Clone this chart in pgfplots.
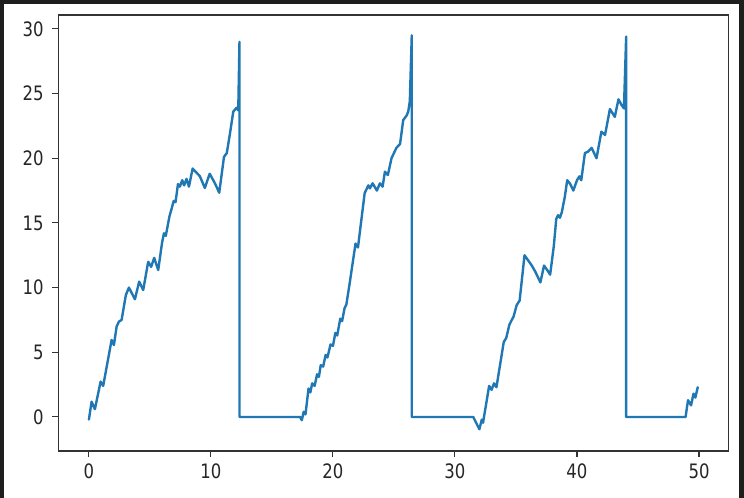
\documentclass[border=0pt]{standalone}
\usepackage{pgfplots}
\pgfplotsset{compat=1.18}
\usepackage{fontspec}
\setmainfont{DejaVu Sans}[FakeStretch=0.83]
\definecolor{mplblue}{HTML}{1F77B4}
\definecolor{framedark}{HTML}{1E1E1E}
\definecolor{ticktext}{HTML}{262626}
\begin{document}
\begin{tikzpicture}
\useasboundingbox (0,0) rectangle (558pt,373.5pt);
\fill[white] (0,-20pt) rectangle (558pt,373.5pt);
\fill[framedark] (0,-20pt) rectangle (3pt,373.5pt);
\fill[framedark] (0,370.5pt) rectangle (558pt,373.5pt);
\fill[framedark] (554.25pt,-20pt) rectangle (558pt,373.5pt);
\begin{axis}[
  at={(43.8pt,35.25pt)}, anchor=south west,
  scale only axis, width=502.6pt, height=327pt,
  xmin=-2.5, xmax=52.42, ymin=-2.63, ymax=31.07,
  xtick={0,10,20,30,40,50}, ytick={0,5,10,15,20,25,30},
  tick align=outside, major tick length=4.5pt,
  xtick pos=bottom, ytick pos=left,
  axis line style={black!80, line width=0.8pt},
  every tick/.style={black!80, line width=0.8pt},
  /pgf/number format/assume math mode=true,
  tick label style={font=\fontsize{14.9pt}{17pt}\selectfont, text=ticktext},
  xticklabel style={yshift=-1.5pt},
  yticklabel style={xshift=-3pt},
]
\addplot[mplblue, line width=1.8pt, line join=round, line cap=round] coordinates {
(0,-0.2) (0.22,1.18) (0.49,0.6) (0.96,2.73) (1.17,2.4) (1.86,5.95) (2.05,5.56)
(2.27,6.98) (2.46,7.37) (2.68,7.5) (3.03,9.43) (3.28,10.0) (3.77,9.1) (4.12,10.46)
(4.45,9.81) (4.86,12.0) (5.1,11.6) (5.35,12.3) (5.68,11.36) (6.0,13.5) (6.15,14.2)
(6.3,14.0) (6.6,15.5) (6.75,16.0) (6.95,16.7) (7.1,16.6) (7.3,18.0) (7.45,17.8)
(7.65,18.3) (7.8,17.9) (8.0,18.4) (8.2,17.8) (8.5,19.2) (8.8,18.9) (9.1,18.6)
(9.5,17.7) (9.9,18.8) (10.33,18.06) (10.68,17.33) (11.07,20.1) (11.3,20.4)
(11.56,21.9) (11.83,23.6) (12.1,23.9) (12.24,23.7) (12.34,29.0) (12.34,0)
(17.3,0) (17.45,-0.25) (17.6,0.4) (17.75,0.2) (18.0,2.2) (18.15,1.9) (18.3,2.6)
(18.5,2.4) (18.7,3.3) (18.85,3.1) (19.0,4.0) (19.2,3.9) (19.4,4.8) (19.55,4.6)
(19.8,5.6) (20.0,5.5) (20.2,6.5) (20.35,6.3) (20.6,7.6) (20.75,7.4) (20.95,8.4)
(21.1,8.7) (21.35,10.2) (21.6,11.8) (21.85,13.4) (22.05,13.1) (22.6,17.3)
(22.9,17.9) (23.03,17.67) (23.25,18.06) (23.6,17.5) (23.85,18.06) (24.07,17.8)
(24.26,18.96) (24.5,18.7) (24.8,20.0) (25.0,20.4) (25.2,20.8) (25.5,21.1)
(25.76,22.95) (26.04,23.3) (26.17,23.6) (26.3,24.4) (26.46,29.5) (26.46,0)
(31.5,0) (32.0,-0.95) (32.2,-0.2) (32.3,-0.45) (32.8,2.4) (33.0,2.1) (33.2,2.6)
(33.4,2.3) (34.0,5.8) (34.2,6.1) (34.45,7.1) (34.6,7.4) (34.8,7.75) (35.06,8.65)
(35.3,9.0) (35.7,12.5) (36.0,12.1) (36.3,11.7) (36.6,11.2) (36.8,10.8) (37.0,10.4)
(37.3,11.7) (37.6,11.3) (37.8,11.0) (38.1,13.2) (38.3,15.3) (38.45,15.6) (38.6,15.4)
(38.75,15.8) (39.0,17.0) (39.2,18.3) (39.45,18.0) (39.7,17.5) (40.0,18.3) (40.2,18.6)
(40.35,18.3) (40.65,20.4) (40.9,20.5) (41.2,20.8) (41.6,20.0) (42.0,22.05) (42.3,21.8)
(42.7,23.8) (43.1,23.2) (43.4,24.55) (43.66,24.1) (43.85,23.85) (44.03,29.4) (44.03,0)
(48.9,0) (49.1,1.3) (49.35,0.9) (49.55,1.8) (49.7,1.5) (49.9,2.3)
};
\end{axis}
\end{tikzpicture}
\end{document}
